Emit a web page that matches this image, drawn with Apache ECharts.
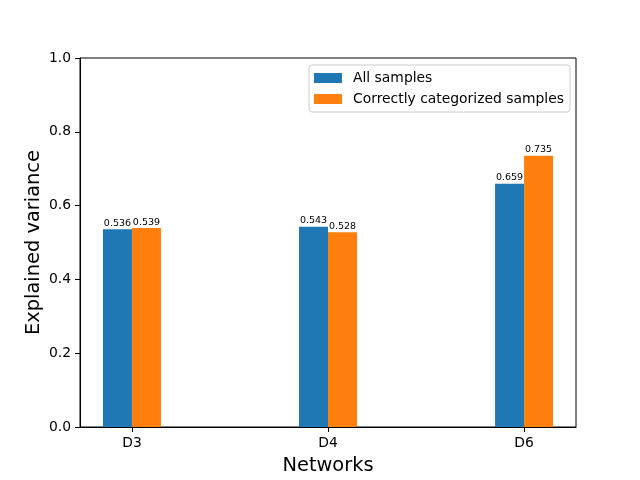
<!DOCTYPE html>
<html>
<head>
<meta charset="utf-8">
<script src="https://cdn.jsdelivr.net/npm/echarts@6/dist/echarts.min.js"></script>
<style>
  html, body { margin: 0; padding: 0; background: #fff; }
  #chart { width: 640px; height: 480px; }
</style>
</head>
<body>
<div id="chart"></div>
<script>
// networks on the x axis, positions 0..2
const networks = ["D3", "D4", "D6"];
const allSamples = [0.536, 0.543, 0.659];
const correctSamples = [0.539, 0.528, 0.735];
const yTicks = [0, 0.2, 0.4, 0.6, 0.8, 1.0];

const font = "DejaVu Sans";

const chart = echarts.init(document.getElementById("chart"));

const toPoints = arr => arr.map((v, i) => [i, v]);

const valueLabel = {
    show: true,
    position: "top",
    distance: 1,
    fontFamily: font,
    fontSize: 9.5,
    color: "#000",
    formatter: p => p.value[1].toFixed(3)
};

chart.setOption({
    animation: false,
    textStyle: { fontFamily: font },
    grid: { left: 80, right: 64, top: 58, bottom: 53, show: true, borderColor: "#000", borderWidth: 1 },
    legend: {
        orient: "vertical",
        right: 70,
        top: 65,
        icon: "rect",
        itemWidth: 28,
        itemHeight: 10,
        itemGap: 7,
        padding: [6, 6, 6, 5],
        backgroundColor: "#fff",
        borderColor: "#ccc",
        borderWidth: 1,
        borderRadius: 3,
        textStyle: { fontFamily: font, fontSize: 13.9, color: "#000", padding: [0, 0, 0, 6] },
        data: ["All samples", "Correctly categorized samples"]
    },
    xAxis: {
        type: "value",
        min: -0.265,
        max: 2.265,
        name: "Networks",
        nameLocation: "middle",
        nameGap: 29,
        nameMoveOverlap: false,
        nameTextStyle: { fontFamily: font, fontSize: 19.4, color: "#000" },
        splitLine: { show: false },
        axisLine: { show: true, onZero: false, lineStyle: { color: "#000" } },
        axisTick: { show: true, length: 5, lineStyle: { color: "#000" }, customValues: [0, 1, 2] },
        axisLabel: {
            fontFamily: font, fontSize: 13.9, color: "#000", margin: 9,
            customValues: [0, 1, 2],
            formatter: v => networks[Math.round(v)]
        }
    },
    yAxis: {
        type: "value",
        min: 0,
        max: 1,
        interval: 0.2,
        name: "Explained variance",
        nameLocation: "middle",
        nameGap: 37,
        nameMoveOverlap: false,
        nameTextStyle: { fontFamily: font, fontSize: 19.4, color: "#000" },
        splitLine: { show: false },
        axisLine: { show: true, onZero: false, lineStyle: { color: "#000" } },
        axisTick: { show: true, length: 5, lineStyle: { color: "#000" } },
        axisLabel: {
            fontFamily: font, fontSize: 13.9, color: "#000", margin: 9,
            customValues: yTicks,
            formatter: v => v.toFixed(1)
        }
    },
    series: [
        {
            name: "All samples",
            type: "bar",
            barWidth: 29,
            barGap: "0%",
            itemStyle: { color: "#1f77b4" },
            label: valueLabel,
            data: toPoints(allSamples)
        },
        {
            name: "Correctly categorized samples",
            type: "bar",
            barWidth: 29,
            barGap: "0%",
            itemStyle: { color: "#ff7f0e" },
            label: valueLabel,
            data: toPoints(correctSamples)
        }
    ]
});
</script>
</body>
</html>
